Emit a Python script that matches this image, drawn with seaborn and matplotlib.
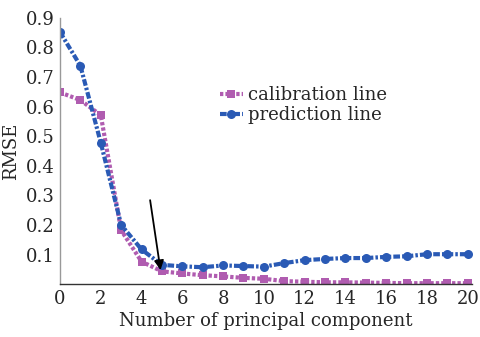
import numpy as np
import pandas as pd
import seaborn as sns
import matplotlib
matplotlib.use("Agg")
import matplotlib.pyplot as plt

components = list(range(0, 21))
calibration = [0.648, 0.622, 0.571, 0.182, 0.076, 0.043, 0.036, 0.030, 0.026, 0.021, 0.018,
               0.010, 0.008, 0.006, 0.006, 0.005, 0.004, 0.003, 0.003, 0.003, 0.003]
prediction = [0.852, 0.738, 0.478, 0.200, 0.117, 0.065, 0.060, 0.057, 0.063, 0.061, 0.059,
              0.071, 0.081, 0.085, 0.088, 0.088, 0.092, 0.094, 0.101, 0.101, 0.101]
series_names = ["calibration line", "prediction line"]
xticks = list(range(0, 21, 2))
yticks = [0.1, 0.2, 0.3, 0.4, 0.5, 0.6, 0.7, 0.8, 0.9]

sns.set_style("white")
plt.rcParams['font.family'] = ['DejaVu Serif']
plt.rcParams['mathtext.fontset'] = 'dejavuserif'

df = pd.DataFrame({"x": components * 2,
                   "RMSE": calibration + prediction,
                   "series": [series_names[0]] * 21 + [series_names[1]] * 21})

fig = plt.figure(figsize=(4.8, 3.37), dpi=100)
ax = fig.add_axes([0.125, 0.157, 0.858, 0.79])

pink = "#b05cb0"
blue = "#2a5ab5"
sns.lineplot(data=df[df.series == series_names[0]], x="x", y="RMSE", ax=ax,
             color=pink, marker="s", markersize=5.5, markeredgewidth=0,
             linestyle=(0, (0.8, 0.5)), linewidth=3, label=series_names[0])
sns.lineplot(data=df[df.series == series_names[1]], x="x", y="RMSE", ax=ax,
             color=blue, marker="o", markersize=6.5, markeredgewidth=0,
             linestyle=(0, (1.6, 0.5, 0.6, 0.5)), linewidth=3, label=series_names[1])

ax.set_xlim(0, 20.2)
ax.set_ylim(0, 0.9)
ax.set_xticks(xticks)
ax.set_yticks(yticks)
ax.set_xticklabels([str(t) for t in xticks])
ax.set_yticklabels([f"{t:.1f}" for t in yticks])
ax.tick_params(axis='both', labelsize=13, direction='in', length=3, color='#888888', pad=4)
ax.set_xlabel("Number of principal component", fontsize=13, labelpad=3)
ax.set_ylabel("RMSE", fontsize=13, labelpad=4)

for s in ["top", "right"]:
    ax.spines[s].set_visible(False)
ax.spines["left"].set_color("#999999")
ax.spines["bottom"].set_color("#333333")
ax.spines["left"].set_linewidth(1)
ax.spines["bottom"].set_linewidth(1)

ax.annotate("", xy=(4.95, 0.038), xytext=(4.4, 0.293),
            arrowprops=dict(arrowstyle="-|>", color="black", lw=1.3, mutation_scale=14))

leg = ax.legend(loc="upper left", bbox_to_anchor=(0.37, 0.77), frameon=False,
                fontsize=13, handlelength=1.3, handletextpad=0.3, labelspacing=0.1,
                borderaxespad=0)

fig.savefig("out.png", dpi=100)
